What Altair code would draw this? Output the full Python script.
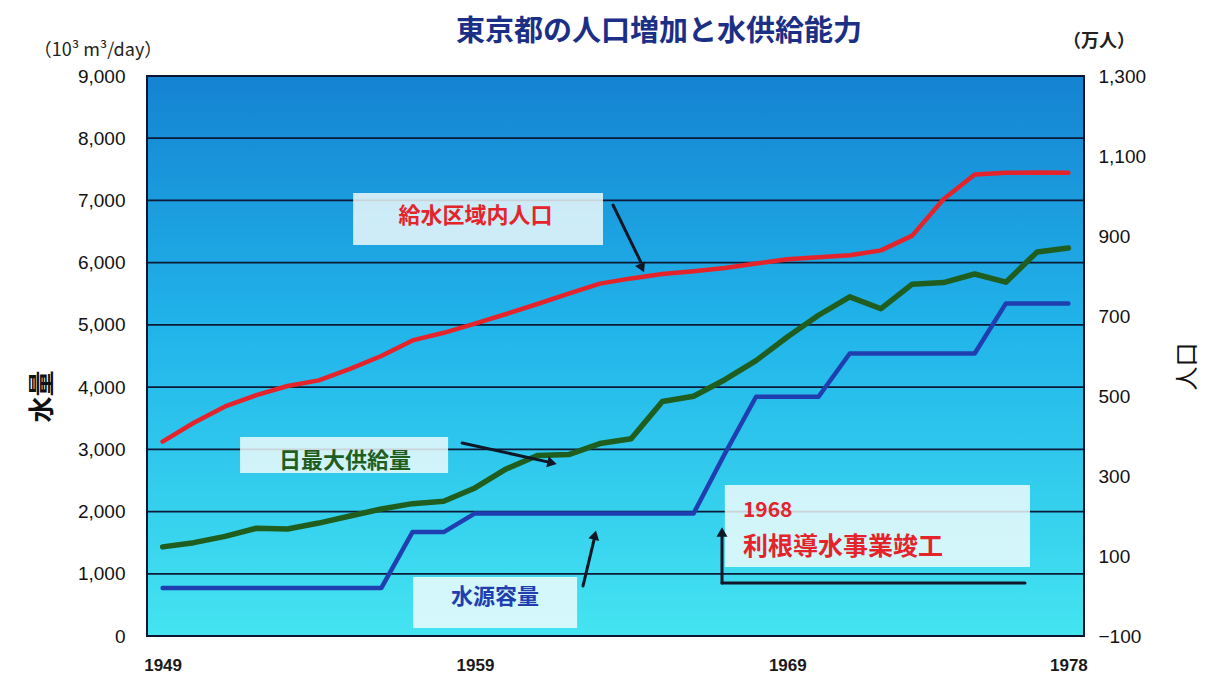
import altair as alt
import pandas as pd

# ---------------- data ----------------
years = list(range(1949, 1979))
# 給水区域内人口 (万人)
population = [386, 433, 474, 502, 525, 539, 568, 600, 639, 658,
              681, 705, 730, 756, 781, 794, 805, 812, 820, 831,
              842, 847, 852, 864, 901, 992, 1054, 1058, 1059, 1058]
# 日最大供給量 (10^3 m3/day)
max_supply = [1432, 1500, 1602, 1732, 1719, 1815, 1929, 2041, 2127, 2166,
              2379, 2685, 2902, 2915, 3093, 3169, 3768, 3853, 4119, 4426,
              4806, 5155, 5451, 5260, 5655, 5680, 5818, 5686, 6173, 6235]
# 水源容量 (10^3 m3/day)
source_capacity = [770, 770, 770, 770, 770, 770, 770, 770, 1670, 1670,
                   1970, 1970, 1970, 1970, 1970, 1970, 1970, 1970, 2930, 3845,
                   3845, 3845, 4540, 4540, 4540, 4540, 4540, 5345, 5345, 5345]

x_ticks = [1949, 1959, 1969, 1978]
left_ticks = [0, 1000, 2000, 3000, 4000, 5000, 6000, 7000, 8000, 9000]
right_ticks = [-100, 100, 300, 500, 700, 900, 1100, 1300]
grid_values = [1000, 2000, 3000, 4000, 5000, 6000, 7000, 8000]

title_text = "東京都の人口増加と水供給能力"
left_unit = "（10³ m³/day）"
right_unit = "（万人）"

# annotation anchors in data units (year, 10^3 m3/day)
box_x1 = [1955.10, 1951.48, 1957.02, 1967.00]
box_x2 = [1963.10, 1958.14, 1962.27, 1976.77]
box_y1 = [6284, 2620, 129, 1109]
box_y2 = [7120, 3198, 948, 2427]

arrow_x1 = [1963.42, 1958.59, 1962.46, 1976.61, 1966.91]
arrow_y1 = [6927, 3102, 804, 852, 852]
arrow_x2 = [1964.30, 1961.40, 1962.82, 1966.91, 1966.91]
arrow_y2 = [6020, 2790, 1560, 852, 1600]

head_x = [1964.35, 1961.47, 1962.84, 1966.91]
head_y = [5914, 2780, 1623, 1671]
head_angle = [155, 103, 14, 0]

# ---------------- layout/style ----------------
W, H = 937, 560
FONT_JP = "Noto Sans CJK JP"
FONT_NUM = "Liberation Sans"
RED = "#e5232b"
GREEN = "#1f5e1f"
BLUE = "#1f3fb0"
INK = "#0d1a36"

xs = alt.Scale(domain=[1948.5, 1978.5], nice=False, zero=False)
yw = alt.Scale(domain=[0, 9000], nice=False, zero=False)
yp = alt.Scale(domain=[-100, 1300], nice=False, zero=False)

x_axis = alt.Axis(values=x_ticks, format="d", labelFont=FONT_NUM, labelFontSize=17,
                  labelFontWeight="bold", labelColor="#1a1a1a", labelPadding=21,
                  ticks=False, domain=False, grid=False, title=None)

left_axis = alt.Axis(values=left_ticks, format=",d", orient="left",
                     labelFont=FONT_NUM, labelFontSize=19, labelColor="#111111",
                     labelPadding=22, ticks=False, domain=False, grid=False,
                     title="水量", titleFont=FONT_JP, titleFontSize=26,
                     titleFontWeight="bold", titleColor="#111111", titleAngle=270,
                     titleAlign="center", titleBaseline="middle",
                     titleX=-105, titleY=320)

right_axis = alt.Axis(values=right_ticks, format=",d", orient="right",
                      labelFont=FONT_NUM, labelFontSize=19, labelColor="#111111",
                      labelPadding=14, ticks=False, domain=False, grid=False,
                      title="人口", titleFont=FONT_JP, titleFontSize=24,
                      titleFontWeight="normal", titleColor="#111111", titleAngle=270,
                      titleAlign="center", titleBaseline="middle",
                      titleX=103, titleY=290)

one = pd.DataFrame({"a": [0]})

# background gradient
bg = alt.Chart(one).mark_rect(
    color=alt.LinearGradient(
        gradient="linear",
        stops=[alt.GradientStop(color="#1583d2", offset=0),
               alt.GradientStop(color="#21b4ea", offset=0.45),
               alt.GradientStop(color="#44e4f1", offset=1)],
        x1=0, x2=0, y1=0, y2=1)
).encode(x=alt.value(0), x2=alt.value(W), y=alt.value(0), y2=alt.value(H))

grid = alt.Chart(pd.DataFrame({"g": grid_values})).mark_rule(
    color=INK, strokeWidth=1.8
).encode(y=alt.Y("g:Q", scale=yw, axis=None))

boxes = alt.Chart(pd.DataFrame({"x1": box_x1, "x2": box_x2, "y1": box_y1, "y2": box_y2})).mark_rect(
    color="#f4fcfd", opacity=0.82
).encode(
    x=alt.X("x1:Q", scale=xs, axis=x_axis), x2="x2:Q",
    y=alt.Y("y1:Q", scale=yw, axis=None), y2="y2:Q")

df = pd.DataFrame({"year": years, "pop": population, "supply": max_supply,
                   "source": source_capacity})
base = alt.Chart(df)

blue = base.mark_line(color=BLUE, strokeWidth=4.5, strokeJoin="round", strokeCap="round").encode(
    x=alt.X("year:Q", scale=xs, axis=x_axis),
    y=alt.Y("source:Q", scale=yw, axis=None))

green = base.mark_line(color=GREEN, strokeWidth=5.5, strokeJoin="round", strokeCap="round").encode(
    x=alt.X("year:Q", scale=xs, axis=x_axis),
    y=alt.Y("supply:Q", scale=yw, axis=left_axis))

red = base.mark_line(color=RED, strokeWidth=4.5, strokeJoin="round", strokeCap="round").encode(
    x=alt.X("year:Q", scale=xs, axis=x_axis),
    y=alt.Y("pop:Q", scale=yp, axis=right_axis))

arrows = alt.Chart(pd.DataFrame({"x1": arrow_x1, "y1": arrow_y1, "x2": arrow_x2, "y2": arrow_y2})).mark_rule(
    color="#101828", strokeWidth=3, strokeCap="round"
).encode(
    x=alt.X("x1:Q", scale=xs, axis=x_axis), x2="x2:Q",
    y=alt.Y("y1:Q", scale=yw, axis=None), y2="y2:Q")

heads = alt.Chart(pd.DataFrame({"x": head_x, "y": head_y, "ang": head_angle})).mark_point(
    shape="triangle-up", filled=True, color="#101828", opacity=1, size=120
).encode(
    x=alt.X("x:Q", scale=xs, axis=x_axis),
    y=alt.Y("y:Q", scale=yw, axis=None),
    angle=alt.Angle("ang:Q", scale=None))


def label(text, year, value, color, size, align="center"):
    return alt.Chart(pd.DataFrame({"t": [text], "x": [year], "y": [value]})).mark_text(
        font=FONT_JP, fontSize=size, fontWeight="bold", color=color,
        align=align, baseline="middle"
    ).encode(
        x=alt.X("x:Q", scale=xs, axis=x_axis),
        y=alt.Y("y:Q", scale=yw, axis=None),
        text="t:N")


lab1 = label("給水区域内人口", 1959.02, 6750, RED, 22)
lab2 = label("日最大供給量", 1954.84, 2812, GREEN, 22)
lab3 = label("水源容量", 1959.64, 627, BLUE, 22)
lab4 = label("1968", 1967.58, 2010, RED, 21, "left")
lab5 = label("利根導水事業竣工", 1967.58, 1430, RED, 25, "left")

border = alt.Chart(one).mark_rect(
    fillOpacity=0, stroke="#0a1530", strokeWidth=2
).encode(x=alt.value(0), x2=alt.value(W), y=alt.value(0), y2=alt.value(H))

title = alt.Chart(one).mark_text(
    text=title_text, font=FONT_JP, fontSize=29, fontWeight="bold",
    color="#1c2f86", align="center", baseline="middle"
).encode(x=alt.value(512), y=alt.value(-44))

unit_l = alt.Chart(one).mark_text(
    text=left_unit, font=FONT_JP, fontSize=18, color="#222222",
    align="center", baseline="middle"
).encode(x=alt.value(-49), y=alt.value(-25))

unit_r = alt.Chart(one).mark_text(
    text=right_unit, font=FONT_JP, fontSize=18, fontWeight="bold", color="#222222",
    align="center", baseline="middle"
).encode(x=alt.value(952), y=alt.value(-34))

chart = alt.layer(
    bg, grid, boxes, blue, green, red, arrows, heads,
    lab1, lab2, lab3, lab4, lab5, border, title, unit_l, unit_r
).resolve_scale(y="independent").properties(
    width=W, height=H,
    autosize=alt.AutoSizeParams(type="none"),
    padding={"left": 147, "top": 76, "right": 131, "bottom": 50}
).configure(background="white").configure_view(stroke="transparent")

chart.save("out.html", embed_options={"renderer": "svg", "actions": False})
